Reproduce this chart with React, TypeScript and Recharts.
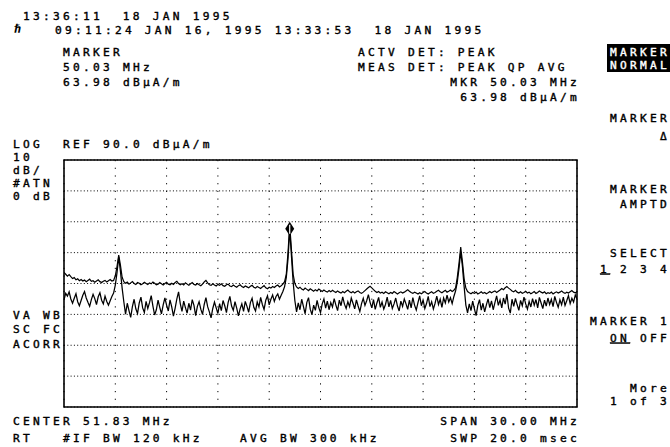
import { CartesianGrid, Line, LineChart, ReferenceArea, XAxis, YAxis } from "recharts";

// sweep: center 51.83 MHz, span 30 MHz, 301 points
const CENTER = 51.83;
const SPAN = 30;
const STEP = 0.1;
const F_START = CENTER - SPAN / 2;
const F_END = CENTER + SPAN / 2;

const REF_LEVEL = 90;
const BOTTOM_LEVEL = 10;

const GRID_X = [39.83, 42.83, 45.83, 48.83, 51.83, 54.83, 57.83, 60.83, 63.83];
const GRID_Y = [20, 30, 40, 50, 60, 70, 80];

// upper trace, dBµA/m
const UPPER = [
  53.6, 53.0, 52.4, 52.9, 52.2, 51.6, 51.9, 51.2, 51.5, 50.9,
  51.3, 50.8, 51.1, 50.6, 51.0, 51.4, 50.7, 50.9, 50.4, 50.8,
  51.2, 50.6, 50.3, 50.7, 51.0, 50.5, 50.9, 51.3, 50.8, 51.0,
  52.5, 55.5, 59.2, 56.0, 52.0, 50.6, 50.1, 50.5, 49.8, 50.2,
  50.6, 50.0, 49.7, 50.3, 50.1, 49.6, 49.9, 50.4, 50.0, 49.7,
  50.2, 49.9, 50.5, 50.1, 49.6, 49.8, 50.3, 49.9, 49.5, 50.0,
  50.4, 49.8, 49.6, 50.1, 49.7, 50.3, 50.7, 50.0, 49.6, 49.9,
  49.5, 50.2, 49.8, 49.4, 49.9, 50.3, 49.7, 49.5, 50.0, 49.6,
  49.3, 49.8, 50.5, 51.0, 50.2, 49.6, 49.4, 49.9, 49.5, 49.2,
  49.7, 49.4, 49.9, 49.3, 49.1, 49.6, 49.8, 49.2, 49.0, 49.5,
  49.1, 48.8, 49.3, 49.6, 49.0, 48.7, 49.2, 48.9, 48.6, 49.1,
  49.4, 48.8, 48.5, 49.0, 48.7, 48.4, 48.9, 49.3, 48.6, 48.3,
  48.8, 48.5, 49.0, 48.7, 49.2, 49.5, 48.9, 49.3, 49.8, 50.6,
  53.0, 60.0, 69.0, 61.0, 53.0, 50.0, 48.9, 48.4, 48.8, 48.2,
  47.9, 48.5, 48.1, 47.7, 48.3, 47.9, 47.5, 48.0, 47.6, 48.2,
  47.8, 47.4, 47.9, 47.5, 47.2, 47.7, 47.3, 47.8, 47.4, 47.1,
  47.6, 47.2, 46.9, 47.4, 47.0, 47.5, 47.9, 47.3, 47.0, 47.4,
  46.9, 47.3, 47.6, 47.1, 46.8, 47.2, 47.7, 48.2, 48.7, 49.1,
  48.6, 48.0, 47.5, 47.1, 47.4, 46.9, 47.2, 46.8, 47.3, 47.0,
  46.7, 47.1, 46.8, 47.4, 47.0, 46.6, 47.0, 47.3, 46.9, 47.2,
  47.6, 48.0, 47.5, 47.1, 46.8, 47.2, 46.9, 46.6, 47.0, 46.7,
  47.1, 47.4, 46.9, 46.6, 47.0, 47.3, 46.8, 47.1, 47.5, 47.8,
  47.3, 47.0, 47.4, 47.8, 47.2, 47.5, 47.9, 47.4, 47.8, 48.6,
  52.0, 56.5, 61.8, 57.0, 51.5, 48.5, 47.4, 47.0, 46.7, 47.1,
  46.8, 47.2, 46.6, 46.9, 47.3, 46.8, 47.1, 46.7, 47.0, 47.4,
  47.0, 47.3, 47.6, 47.1, 47.5, 47.9, 48.4, 48.0, 48.6, 49.0,
  48.5, 48.1, 47.6, 47.3, 47.8, 47.2, 46.9, 47.3, 46.8, 47.1,
  47.5, 46.9, 47.2, 46.7, 47.0, 47.4, 46.8, 47.1, 47.6, 47.2,
  46.9, 47.3, 46.7, 47.0, 46.8, 47.2, 46.6, 47.0, 47.3, 46.9,
  47.2, 47.6, 47.1, 46.8, 47.2, 46.9, 47.3, 47.7, 47.2, 47.0,
  47.3,
];

// lower trace, dBµA/m
const LOWER = [
  44.7, 46.8, 45.9, 47.3, 45.0, 43.6, 45.2, 46.7, 44.1, 42.8,
  44.5, 46.2, 47.4, 45.3, 43.9, 42.6, 44.8, 46.5, 45.1, 43.2,
  45.7, 47.0, 44.6, 43.4, 45.9, 44.2, 43.0, 44.4, 45.8, 46.9,
  49.5, 53.5, 58.6, 54.0, 48.5, 44.0, 40.1, 43.6, 41.2, 39.0,
  42.5, 44.9, 41.8, 40.3, 43.7, 45.6, 42.1, 40.6, 44.2, 41.9,
  43.8, 46.1, 42.7, 39.8, 41.5, 44.6, 42.3, 40.2, 43.1, 45.3,
  43.0, 41.1, 44.7, 42.4, 39.4, 42.0, 45.0, 47.3, 43.5, 41.0,
  44.3, 42.2, 40.4, 43.6, 41.4, 44.8, 42.9, 39.6, 42.6, 44.1,
  41.7, 40.0, 43.2, 45.4, 42.5, 40.8, 38.9, 41.9, 44.0, 42.1,
  40.3, 43.5, 41.2, 44.5, 42.8, 40.6, 43.9, 45.8, 42.7, 41.3,
  44.1, 42.0, 39.5, 41.8, 43.4, 41.0, 44.2, 42.6, 40.7, 43.8,
  45.2, 42.3, 41.1, 44.0, 42.4, 45.5, 43.2, 41.6, 44.6, 46.0,
  43.1, 44.9, 46.3, 44.2, 45.8, 46.6, 44.9, 46.2, 47.4, 49.0,
  52.0, 58.0, 67.5, 59.0, 50.5, 44.5, 40.8, 43.7, 41.5, 44.9,
  42.6, 40.2, 43.9, 45.4, 41.7, 39.9, 43.0, 41.3, 44.5, 42.2,
  40.6, 43.4, 45.0, 42.0, 44.3, 41.5, 43.8, 42.4, 45.1, 43.0,
  41.2, 44.6, 42.8, 45.7, 43.3, 41.9, 44.1, 42.5, 45.3, 43.6,
  41.8, 44.7, 42.7, 40.9, 43.5, 45.2, 42.9, 44.4, 46.4, 43.9,
  42.1, 44.8, 41.6, 43.7, 45.5, 42.3, 44.0, 41.7, 43.2, 45.6,
  42.4, 44.5, 41.9, 43.4, 45.3, 42.7, 41.1, 44.3, 42.6, 45.0,
  43.4, 41.6, 44.6, 42.1, 45.4, 43.0, 41.4, 43.8, 46.0, 42.8,
  44.7, 41.9, 43.5, 45.8, 42.5, 44.1, 41.7, 43.6, 45.9, 43.2,
  44.9, 42.3, 45.3, 43.7, 46.2, 44.0, 45.4, 43.5, 45.8, 47.6,
  50.5, 55.0, 60.3, 55.5, 49.0, 43.0, 40.5, 43.4, 41.2, 44.3,
  41.8, 39.6, 42.9, 44.8, 41.4, 43.6, 40.8, 43.1, 45.0, 42.2,
  44.4, 41.5, 43.8, 46.0, 42.9, 44.7, 42.1, 45.3, 43.3, 46.6,
  42.0, 40.4, 44.9, 42.6, 45.2, 43.1, 41.3, 44.5, 42.8, 45.6,
  43.4, 41.7, 44.2, 42.4, 45.1, 43.0, 44.8, 42.1, 45.5, 43.7,
  41.9, 44.6, 42.7, 45.3, 43.2, 44.9, 42.5, 45.8, 43.9, 42.3,
  44.7, 43.1, 45.6, 42.9, 44.4, 46.1, 43.5, 45.2, 44.0, 46.3,
  45.0,
];

const data = UPPER.map((u, i) => ({
  f: +(F_START + i * STEP).toFixed(2),
  upper: u,
  lower: LOWER[i],
}));

const MARKER_INDEX = UPPER.indexOf(Math.max(...UPPER));

const FONT = "'DejaVu Sans Mono', monospace";

type Txt = { t: string; x: number; y: number; end?: boolean; inv?: boolean };

const TEXTS: Txt[] = [
  { t: "13:36:11  18 JAN 1995", x: 23, y: 20 },
  { t: "09:11:24 JAN 16, 1995 13:33:53  18 JAN 1995", x: 55, y: 33.5 },
  { t: "MARKER", x: 63, y: 56 },
  { t: "50.03 MHz", x: 63, y: 71 },
  { t: "63.98 dBµA/m", x: 63, y: 86 },
  { t: "ACTV DET: PEAK", x: 358, y: 56 },
  { t: "MEAS DET: PEAK QP AVG", x: 358, y: 71 },
  { t: "MKR 50.03 MHz", x: 580, y: 86, end: true },
  { t: "63.98 dBµA/m", x: 580, y: 101, end: true },
  { t: "LOG", x: 13, y: 148 },
  { t: "REF 90.0 dBµA/m", x: 63, y: 148 },
  { t: "10", x: 13, y: 161 },
  { t: "dB/", x: 13, y: 174 },
  { t: "#ATN", x: 13, y: 187 },
  { t: "0 dB", x: 13, y: 200 },
  { t: "VA WB", x: 13, y: 318.5 },
  { t: "SC FC", x: 13, y: 333 },
  { t: "ACORR", x: 13, y: 347.5 },
  { t: "CENTER 51.83 MHz", x: 13, y: 424.5 },
  { t: "SPAN 30.00 MHz", x: 580, y: 424.5, end: true },
  { t: "RT", x: 13, y: 441.5 },
  { t: "#IF BW 120 kHz", x: 63, y: 441.5 },
  { t: "AVG BW 300 kHz", x: 240, y: 441.5 },
  { t: "SWP 20.0 msec", x: 580, y: 441.5, end: true },
  { t: "MARKER", x: 670, y: 55.5, end: true, inv: true },
  { t: "NORMAL", x: 670, y: 68.5, end: true, inv: true },
  { t: "MARKER", x: 670, y: 121.5, end: true },
  { t: "Δ", x: 670, y: 139.5, end: true },
  { t: "MARKER", x: 670, y: 192.5, end: true },
  { t: "AMPTD", x: 670, y: 207.5, end: true },
  { t: "SELECT", x: 670, y: 256.5, end: true },
  { t: "MARKER 1", x: 670, y: 324.5, end: true },
  { t: "More", x: 670, y: 391.5, end: true },
  { t: "1 of 3", x: 670, y: 404.5, end: true },
];

function MarkerDot(props: any) {
  const { cx, cy, index } = props;
  if (index !== MARKER_INDEX) return <g key={`d${index}`} />;
  return (
    <g key="marker">
      <polygon
        points={`${cx},${cy - 3} ${cx + 4.5},${cy + 4} ${cx},${cy + 11} ${cx - 4.5},${cy + 4}`}
        fill="#000"
      />
      <line x1={cx} y1={cy} x2={cx} y2={cy + 9} stroke="#fff" strokeWidth={1.2} />
    </g>
  );
}

const textStyle = {
  fontFamily: FONT,
  fontSize: 11.2,
  letterSpacing: 3.25,
  whiteSpace: "pre" as const,
};

export default function App() {
  return (
    <div
      style={{
        position: "fixed",
        left: 0,
        top: 0,
        width: 670,
        height: 447,
        background: "#fff",
        overflow: "hidden",
      }}
    >
      <LineChart
        width={670}
        height={447}
        data={data}
        margin={{ top: 160, right: 93, bottom: 40, left: 64 }}
      >
        <XAxis
          type="number"
          dataKey="f"
          domain={[F_START, F_END]}
          ticks={GRID_X}
          allowDataOverflow
          hide
        />
        <YAxis
          type="number"
          domain={[BOTTOM_LEVEL, REF_LEVEL]}
          ticks={GRID_Y}
          allowDataOverflow
          hide
        />
        <CartesianGrid vertical={false} stroke="#000" strokeDasharray="1 2.3" />
        <CartesianGrid horizontal={false} stroke="#000" strokeDasharray="1.2 6.5" />
        <ReferenceArea
          x1={F_START}
          x2={F_END}
          y1={BOTTOM_LEVEL}
          y2={REF_LEVEL}
          fill="none"
          fillOpacity={0}
          stroke="#000"
          strokeWidth={1.6}
        />
        <Line
          type="linear"
          dataKey="lower"
          stroke="#000"
          strokeWidth={1.25}
          dot={false}
          isAnimationActive={false}
        />
        <Line
          type="linear"
          dataKey="upper"
          stroke="#000"
          strokeWidth={1.2}
          dot={MarkerDot}
          activeDot={false}
          isAnimationActive={false}
        />
      </LineChart>
      <svg
        width={670}
        height={447}
        style={{ position: "absolute", left: 0, top: 0, pointerEvents: "none" }}
      >
        <rect x={607} y={44} width={63} height={28} fill="#000" />
        <text x={14} y={33} fontFamily={FONT} fontSize={12} fontStyle="italic" fontWeight="bold">
          ℏ
        </text>
        {TEXTS.map((d, i) => (
          <text
            key={i}
            x={d.x}
            y={d.y}
            textAnchor={d.end ? "end" : "start"}
            fill={d.inv ? "#fff" : "#000"}
            stroke={d.inv ? "#fff" : "#000"}
            strokeWidth={0.4}
            style={textStyle}
          >
            {d.t}
          </text>
        ))}
        <text x={670} y={272.5} textAnchor="end" stroke="#000" strokeWidth={0.4} style={textStyle}>
          <tspan textDecoration="underline">1</tspan> 2 3 4
        </text>
        <text x={670} y={341.5} textAnchor="end" stroke="#000" strokeWidth={0.4} style={textStyle}>
          <tspan textDecoration="underline">ON</tspan> OFF
        </text>
      </svg>
    </div>
  );
}
